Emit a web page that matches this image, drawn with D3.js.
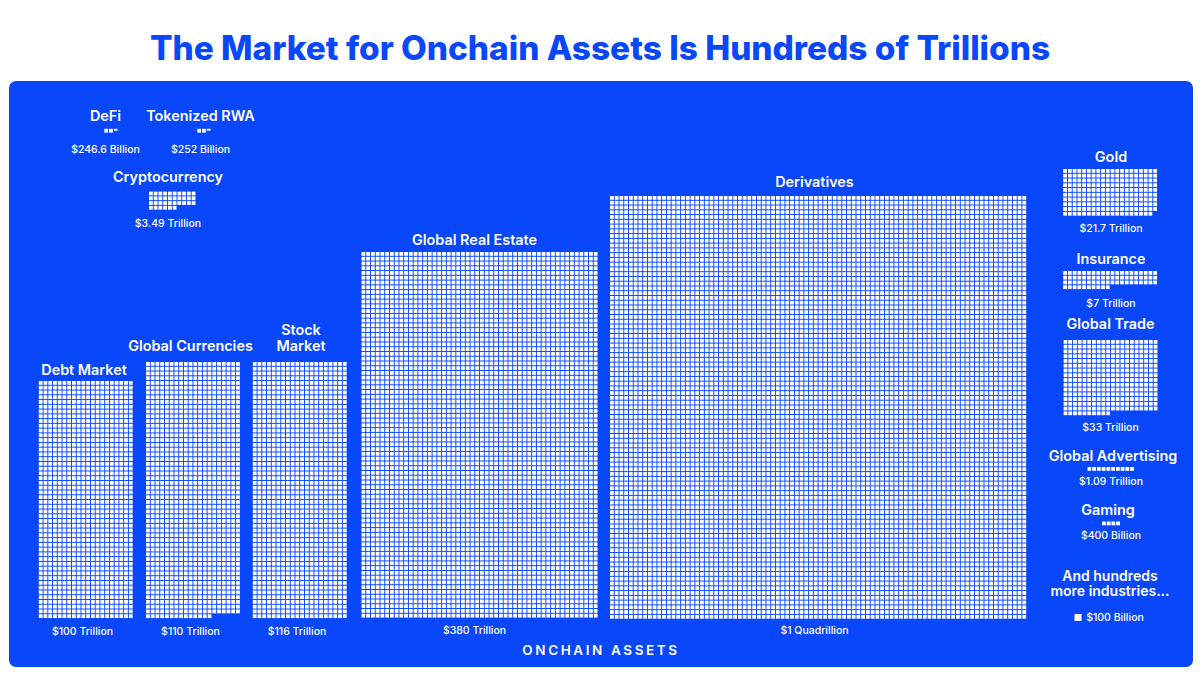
<!DOCTYPE html>
<html>
<head>
<meta charset="utf-8">
<script src="https://cdn.jsdelivr.net/npm/d3@7"></script>
<style>
  html, body { margin: 0; padding: 0; background: #fff; }
  svg { display: block; }
  text { font-family: "Inter", sans-serif; fill: #fff; text-anchor: middle; }
</style>
</head>
<body>
<div id="chart"></div>
<script>
const titleText = "The Market for Onchain Assets Is Hundreds of Trillions";
const footerText = "ONCHAIN ASSETS";

// one square = $100 Billion
const names = ["DeFi", "Tokenized RWA", "Cryptocurrency", "Debt Market", "Global Currencies", "Stock\nMarket",
    "Global Real Estate", "Derivatives", "Gold", "Insurance", "Global Trade", "Global Advertising", "Gaming"];
const valueLabels = ["$246.6 Billion", "$252 Billion", "$3.49 Trillion", "$100 Trillion", "$110 Trillion", "$116 Trillion",
    "$380 Trillion", "$1 Quadrillion", "$21.7 Trillion", "$7 Trillion", "$33 Trillion", "$1.09 Trillion", "$400 Billion"];
const squares = [2.5, 2.5, 36, 1000, 1074, 1080, 3850, 7832, 199, 70, 310, 10, 4];
const columns = [3, 3, 10, 20, 20, 20, 50, 88, 20, 20, 20, 10, 4];

const legendLabel = "$100 Billion";
const moreLabel = ["And hundreds", "more industries..."];

// layout only: left/top of each block, baseline of name and value text
const layout = [
    { x: 104.3, y: 128.8, cx: 105.5, nameY: 121, valueY: 153 },
    { x: 197.3, y: 128.8, cx: 200.5, nameY: 121, valueY: 153 },
    { x: 149, y: 191.6, cx: 168, nameY: 182, valueY: 227 },
    { x: 38.8, y: 381, cx: 84, nameY: 375, valueY: 635, valueX: 82.5 },
    { x: 146, y: 362, cx: 190.5, nameY: 351, valueY: 635 },
    { x: 252.8, y: 362, cx: 301, nameY: 335, valueY: 635, valueX: 297 },
    { x: 361.5, y: 252, cx: 474.5, nameY: 245, valueY: 634 },
    { x: 610, y: 196, cx: 814.5, nameY: 187, valueY: 634 },
    { x: 1063.2, y: 169, cx: 1111, nameY: 162, valueY: 232 },
    { x: 1063.2, y: 271, cx: 1111, nameY: 264, valueY: 307 },
    { x: 1063.6, y: 340, cx: 1110.5, nameY: 329, valueY: 431 },
    { x: 1087.5, y: 467, cx: 1113, nameY: 461, valueY: 485, valueX: 1111 },
    { x: 1102, y: 521.5, cx: 1108, nameY: 515, valueY: 539, valueX: 1111 }
];

const width = 1200, height = 673;
const blue = "#0848fa";

const svg = d3.select("#chart").append("svg")
    .attr("width", width)
    .attr("height", height);

svg.append("text")
    .attr("x", 600)
    .attr("y", 60)
    .style("fill", blue)
    .style("font-size", "33.4px")
    .style("font-weight", 800)
    .text(titleText);

svg.append("rect")
    .attr("x", 9)
    .attr("y", 81)
    .attr("width", 1184)
    .attr("height", 586)
    .attr("rx", 7)
    .style("fill", blue);

// square pitch, a touch taller than wide in the source
const cell = 3.8;
const xScale = d3.scaleLinear().domain([0, 1]).range([0, 4.74]);
const yScale = d3.scaleLinear().domain([0, 1]).range([0, 4.76]);

names.forEach((name, k) => {
    const pos = layout[k];
    const cols = columns[k];
    const total = squares[k];

    // a fractional count leaves the last square only partly filled
    const cells = d3.range(Math.ceil(total)).map(i => ({
        col: i % cols,
        row: Math.floor(i / cols),
        frac: Math.min(1, total - i)
    }));

    svg.append("g")
        .attr("transform", "translate(" + pos.x + "," + pos.y + ")")
        .selectAll("rect")
        .data(cells)
        .join("rect")
        .attr("x", d => xScale(d.col))
        .attr("y", d => yScale(d.row))
        .attr("width", cell)
        .attr("height", d => cell * d.frac)
        .style("fill", "#fff");

    name.split("\n").forEach((line, j) => {
        svg.append("text")
            .attr("x", pos.cx)
            .attr("y", pos.nameY + j * 16)
            .style("font-size", "14.4px")
            .style("font-weight", 600)
            .text(line);
    });

    svg.append("text")
        .attr("x", pos.valueX || pos.cx)
        .attr("y", pos.valueY)
        .style("font-size", "10.5px")
        .style("font-weight", 500)
        .text(valueLabels[k]);
});

moreLabel.forEach((line, j) => {
    svg.append("text")
        .attr("x", 1110)
        .attr("y", 581 + j * 15)
        .style("font-size", "14px")
        .style("font-weight", 600)
        .text(line);
});

// legend square
svg.append("rect")
    .attr("x", 1074.5)
    .attr("y", 614)
    .attr("width", 7)
    .attr("height", 7)
    .style("fill", "#fff");

svg.append("text")
    .attr("x", 1115)
    .attr("y", 621)
    .style("font-size", "10.5px")
    .style("font-weight", 500)
    .text(legendLabel);

svg.append("text")
    .attr("x", 601)
    .attr("y", 654.5)
    .style("font-size", "13.5px")
    .style("font-weight", 600)
    .style("letter-spacing", "2.6px")
    .text(footerText);
</script>
</body>
</html>
